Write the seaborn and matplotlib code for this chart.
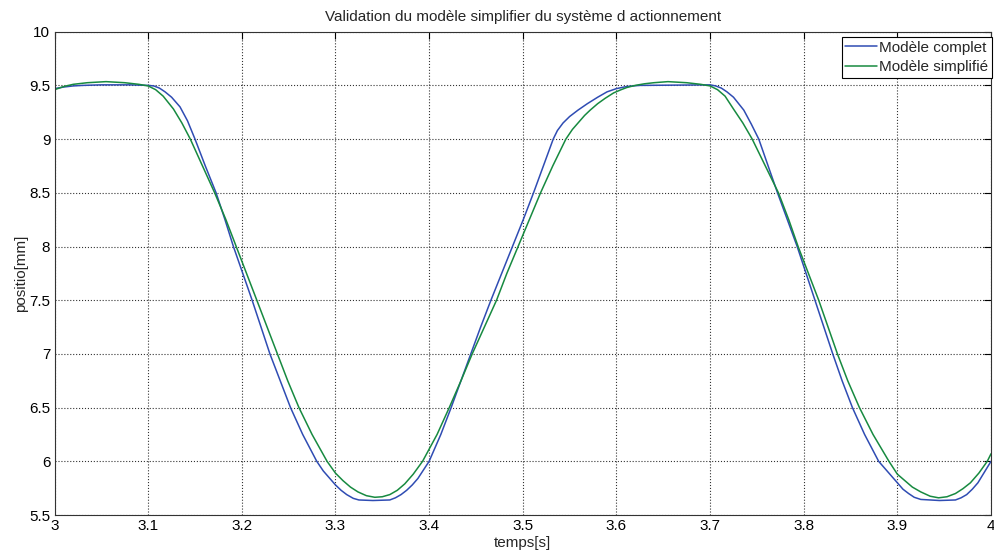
import numpy as np
import pandas as pd
import seaborn as sns
import matplotlib
matplotlib.use('Agg')
import matplotlib.pyplot as plt

# Modèle complet (bleu)
t_complet = [3.000, 3.010, 3.020, 3.030, 3.050, 3.080, 3.100, 3.106, 3.112, 3.118,
             3.125, 3.134, 3.142, 3.150, 3.161, 3.1725, 3.182, 3.191, 3.201, 3.211,
             3.2205, 3.230, 3.241, 3.252, 3.265, 3.280, 3.287, 3.294, 3.300, 3.306,
             3.312, 3.319, 3.325, 3.340, 3.358, 3.364, 3.370, 3.376, 3.382, 3.388,
             3.394, 3.400, 3.4125, 3.4235, 3.434, 3.4445, 3.455, 3.466, 3.4775, 3.489,
             3.5005, 3.5115, 3.522, 3.5325, 3.537, 3.543, 3.550, 3.559, 3.569, 3.580,
             3.590, 3.600, 3.611, 3.625, 3.700, 3.706, 3.712, 3.718, 3.725, 3.736,
             3.744, 3.752, 3.762, 3.772, 3.7825, 3.793, 3.8025, 3.812, 3.8215, 3.831,
             3.841, 3.852, 3.865, 3.880, 3.887, 3.893, 3.900, 3.906, 3.912, 3.918,
             3.925, 3.945, 3.962, 3.968, 3.974, 3.980, 3.986, 3.993, 4.000]
y_complet = [9.47, 9.485, 9.495, 9.50, 9.505, 9.505, 9.50, 9.495, 9.475, 9.44,
             9.39, 9.30, 9.17, 9.00, 8.75, 8.50, 8.25, 8.00, 7.75, 7.50,
             7.25, 7.00, 6.75, 6.50, 6.25, 6.00, 5.91, 5.84, 5.78, 5.73,
             5.69, 5.655, 5.64, 5.635, 5.64, 5.66, 5.69, 5.73, 5.78, 5.84,
             5.92, 6.00, 6.25, 6.50, 6.75, 7.00, 7.25, 7.50, 7.75, 8.00,
             8.25, 8.50, 8.75, 9.00, 9.08, 9.15, 9.21, 9.27, 9.33, 9.39,
             9.44, 9.47, 9.49, 9.50, 9.505, 9.495, 9.475, 9.44, 9.39, 9.27,
             9.14, 9.00, 8.75, 8.50, 8.25, 8.00, 7.75, 7.50, 7.25, 7.00,
             6.75, 6.50, 6.25, 6.00, 5.93, 5.87, 5.80, 5.74, 5.70, 5.665,
             5.645, 5.635, 5.64, 5.66, 5.69, 5.74, 5.80, 5.90, 6.00]

# Modèle simplifié (vert)
t_simple = [3.000, 3.010, 3.020, 3.035, 3.055, 3.075, 3.090, 3.100, 3.108, 3.116,
            3.127, 3.136, 3.145, 3.158, 3.171, 3.183, 3.194, 3.205, 3.216, 3.227,
            3.238, 3.249, 3.261, 3.275, 3.291, 3.300, 3.308, 3.316, 3.324, 3.333,
            3.342, 3.350, 3.358, 3.366, 3.374, 3.383, 3.393, 3.4085, 3.4215, 3.434,
            3.446, 3.459, 3.472, 3.483, 3.495, 3.507, 3.519, 3.532, 3.546, 3.553,
            3.560, 3.566, 3.572, 3.580, 3.588, 3.597, 3.605, 3.611, 3.620, 3.630,
            3.640, 3.655, 3.675, 3.690, 3.700, 3.708, 3.716, 3.725, 3.735, 3.745,
            3.759, 3.773, 3.784, 3.794, 3.805, 3.816, 3.826, 3.836, 3.847, 3.8595,
            3.874, 3.891, 3.900, 3.908, 3.916, 3.925, 3.935, 3.944, 3.953, 3.962,
            3.970, 3.978, 3.987, 3.996, 4.000]
y_simple = [9.46, 9.49, 9.51, 9.525, 9.535, 9.525, 9.51, 9.495, 9.46, 9.40,
            9.28, 9.15, 9.00, 8.75, 8.50, 8.25, 8.00, 7.75, 7.50, 7.25,
            7.00, 6.75, 6.50, 6.25, 6.00, 5.89, 5.82, 5.76, 5.715, 5.68,
            5.665, 5.67, 5.69, 5.73, 5.79, 5.88, 6.00, 6.25, 6.50, 6.75,
            7.00, 7.25, 7.50, 7.75, 8.00, 8.25, 8.50, 8.75, 9.00, 9.09,
            9.16, 9.22, 9.27, 9.33, 9.38, 9.43, 9.46, 9.48, 9.50, 9.515,
            9.525, 9.535, 9.525, 9.51, 9.495, 9.46, 9.40, 9.28, 9.15, 9.00,
            8.75, 8.50, 8.25, 8.00, 7.75, 7.50, 7.25, 7.00, 6.75, 6.50,
            6.25, 6.00, 5.88, 5.82, 5.76, 5.715, 5.675, 5.66, 5.67, 5.70,
            5.745, 5.80, 5.89, 6.00, 6.07]

df = pd.concat([
    pd.DataFrame({'temps': t_complet, 'pos': y_complet, 'modele': 'Modèle complet'}),
    pd.DataFrame({'temps': t_simple, 'pos': y_simple, 'modele': 'Modèle simplifié'}),
])

sns.set_style('white')
plt.rcParams['font.family'] = ['Liberation Sans', 'DejaVu Sans']

fig = plt.figure(figsize=(9.95, 5.59), dpi=100)
ax = fig.add_axes([0.0548, 0.0787, 0.9412, 0.8646])

sns.lineplot(data=df, x='temps', y='pos', hue='modele',
             palette=['#2f4cb3', '#178a40'], linewidth=1.1, ax=ax, sort=False)

ax.set_xlim(3, 4)
ax.set_ylim(5.5, 10)
ax.set_xticks(np.arange(3, 4.01, 0.1))
ax.set_xticklabels(['3', '3.1', '3.2', '3.3', '3.4', '3.5', '3.6', '3.7', '3.8', '3.9', '4'])
ax.set_yticks(np.arange(5.5, 10.01, 0.5))
ax.set_yticklabels(['5.5', '6', '6.5', '7', '7.5', '8', '8.5', '9', '9.5', '10'])
ax.grid(True, color='black', linestyle=':', linewidth=0.8, alpha=0.8)
ax.tick_params(direction='in', length=5, width=0.8, top=True, right=True,
               labelsize=11, colors='black', pad=3)
for s in ax.spines.values():
    s.set_color('#333333')
    s.set_linewidth(0.8)

ax.set_title('Validation du modèle simplifier du système d actionnement', fontsize=11, pad=8)
ax.set_xlabel('temps[s]', fontsize=11, labelpad=2)
ax.set_ylabel('positio[mm]', fontsize=11, labelpad=1)

leg = ax.legend(loc='upper right', bbox_to_anchor=(1.001, 0.989), fontsize=11,
                frameon=True, fancybox=False, handlelength=2.1, handletextpad=0.1,
                borderpad=0.25, labelspacing=0.35, borderaxespad=0)
leg.get_frame().set_edgecolor('black')
leg.get_frame().set_linewidth(0.8)
leg.get_frame().set_alpha(1)

fig.savefig('out.png', dpi=100, facecolor='white')
